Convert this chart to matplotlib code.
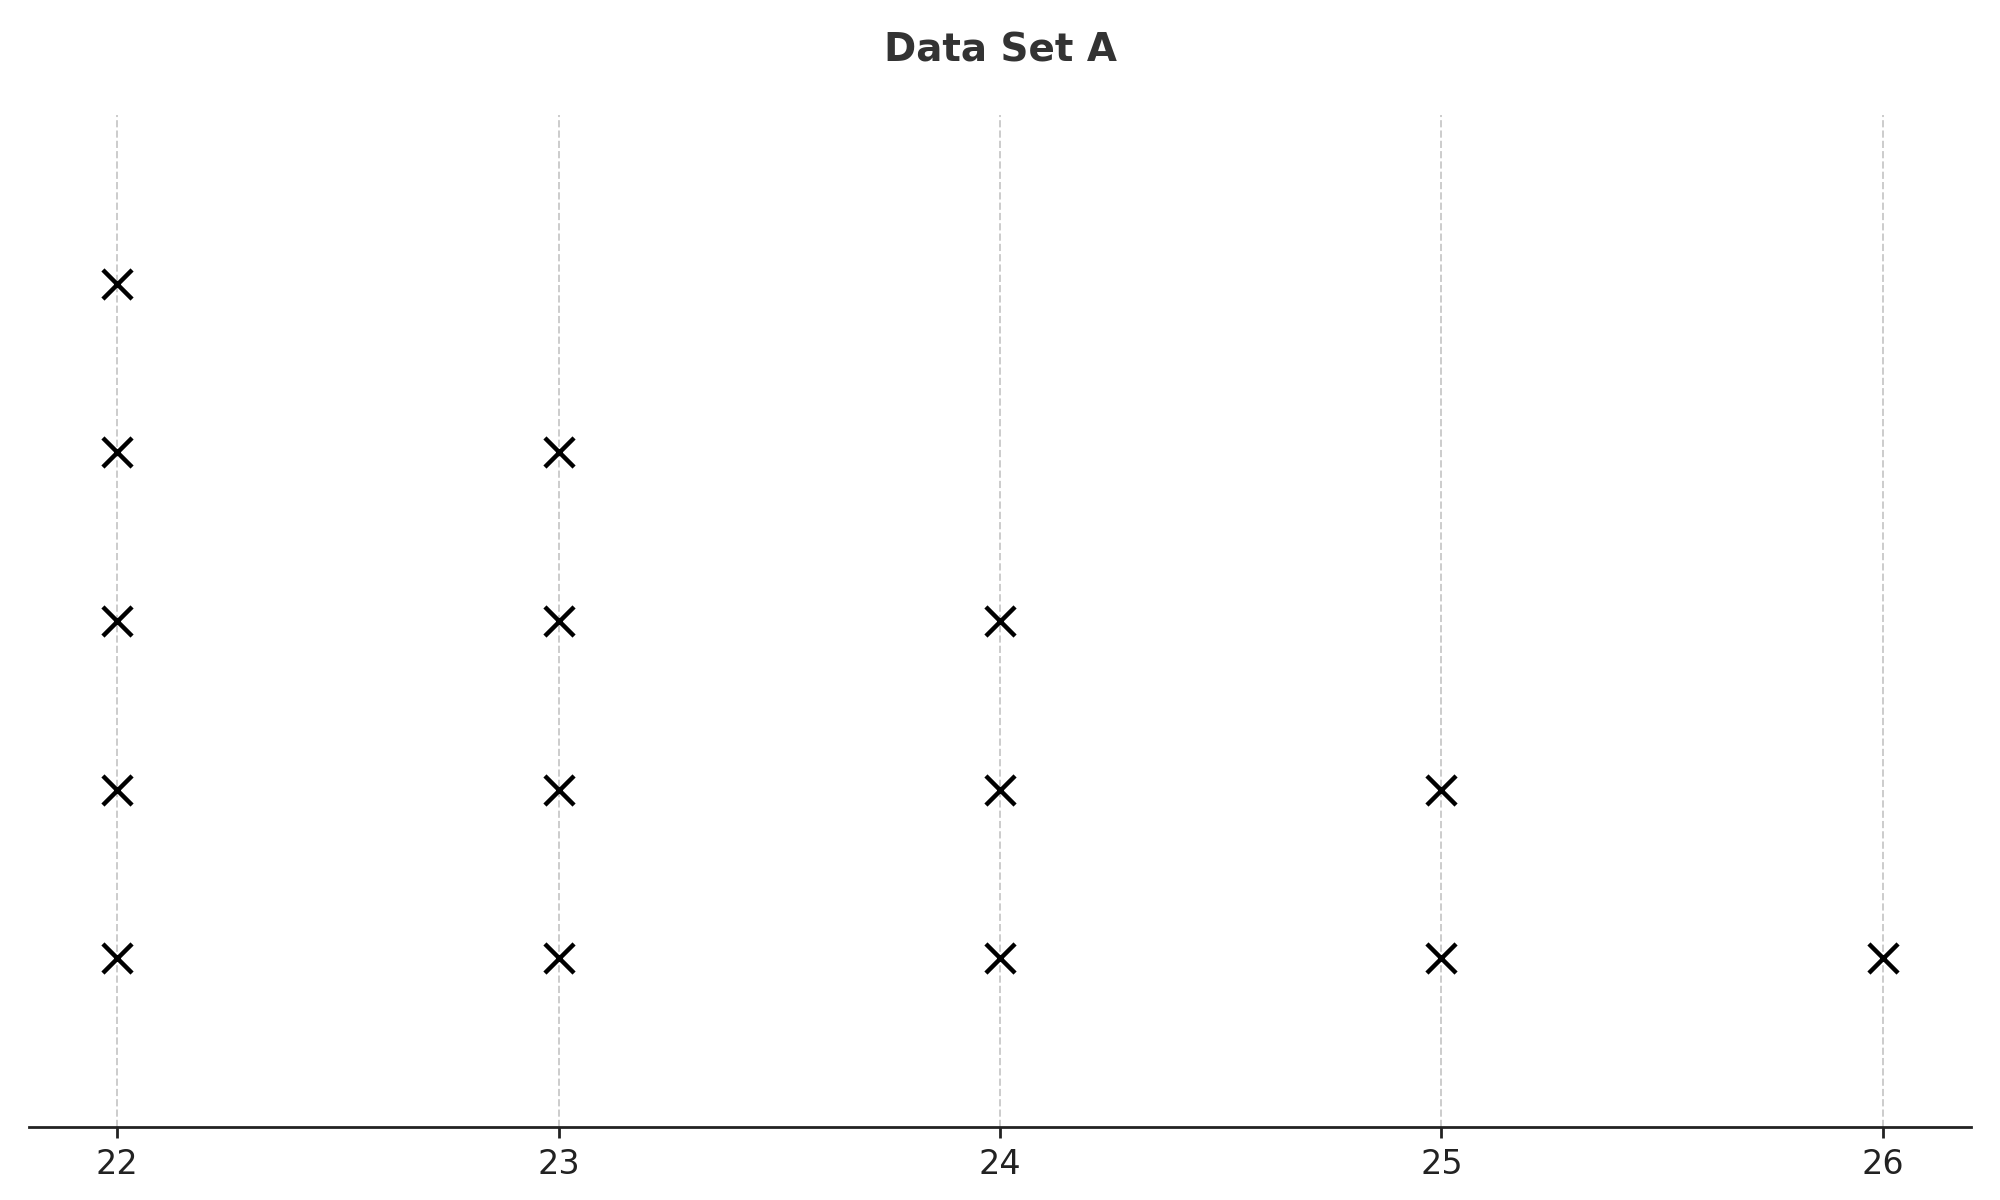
import matplotlib
matplotlib.use("Agg")
import matplotlib.pyplot as plt

values = [22, 23, 24, 25, 26]
counts = [5, 4, 3, 2, 1]
title = "Data Set A"

fig = plt.figure(figsize=(10, 6), dpi=200)
ax = fig.add_axes([0.0145, 0.061, 0.971, 0.843])

xs, ys = [], []
for v, c in zip(values, counts):
    for k in range(1, c + 1):
        xs.append(v)
        ys.append(k)
ax.scatter(xs, ys, marker="x", s=110, color="black", linewidths=1.6, zorder=3)

ax.set_xlim(21.8, 26.2)
ax.set_ylim(0, 6)
ax.set_xticks(values)
ax.set_xticklabels([str(v) for v in values])
ax.set_yticks([])
for s in ["left", "right", "top"]:
    ax.spines[s].set_visible(False)
ax.spines["bottom"].set_color("#222222")
ax.spines["bottom"].set_linewidth(1.0)
ax.tick_params(axis="x", labelsize=12, colors="#222222", length=4, width=1.0)
ax.xaxis.grid(True, linestyle="--", color="#cccccc", linewidth=0.7)
ax.set_axisbelow(True)
fig.suptitle(title, fontsize=14, fontweight="bold", color="#333333", y=0.974)

fig.savefig("out.png", dpi=200)
